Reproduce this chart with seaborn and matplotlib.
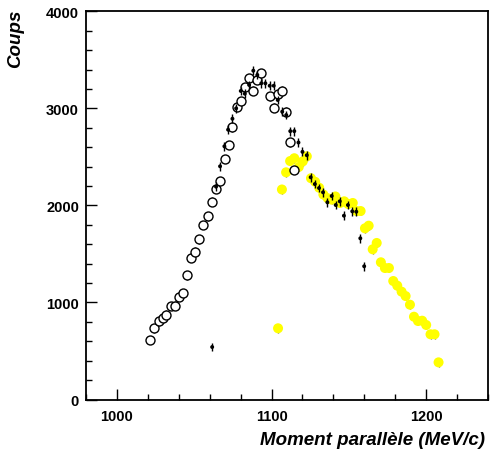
import matplotlib
matplotlib.use("Agg")
import matplotlib.pyplot as plt
import seaborn as sns
import pandas as pd
import numpy as np
from matplotlib.ticker import MultipleLocator

# ---- data ----
open_x = [1021.5, 1024.1, 1026.9, 1029.5, 1032.0, 1034.9, 1037.5, 1040.2, 1042.8, 1045.4,
          1048.0, 1050.8, 1053.4, 1055.9, 1058.8, 1061.2, 1064.1, 1066.7, 1069.6, 1072.2,
          1074.7, 1077.5, 1080.1, 1082.9, 1085.5, 1088.0, 1090.8, 1093.4, 1098.8, 1101.5,
          1104.4, 1106.8, 1109.4, 1112.0, 1114.7]
open_y = [613, 734, 806, 840, 874, 963, 967, 1059, 1097, 1280,
          1458, 1523, 1649, 1798, 1886, 2040, 2169, 2251, 2478, 2622,
          2805, 3017, 3073, 3220, 3313, 3182, 3295, 3361, 3124, 3006,
          3148, 3182, 2965, 2650, 2365]

black_x = [1061.6, 1064.1, 1066.7, 1069.5, 1071.9, 1074.7, 1077.1, 1080.1, 1082.7, 1085.5,
           1088.2, 1090.8, 1093.4, 1096.0, 1098.8, 1101.4, 1104.0, 1106.9, 1109.5, 1112.1,
           1114.7, 1117.4, 1120.0, 1122.8, 1125.3, 1128.0, 1130.7, 1133.3, 1136.1, 1138.9,
           1141.5, 1144.1, 1146.8, 1149.4, 1152.2, 1154.8, 1157.4, 1159.9]
black_y = [541, 2193, 2403, 2609, 2780, 2893, 3000, 3179, 3151, 3241,
           3388, 3344, 3258, 3258, 3233, 3233, 3086, 2966, 2931, 2765,
           2765, 2648, 2552, 2517, 2290, 2220, 2179, 2135, 2032, 2097,
           2004, 2042, 1894, 2004, 1939, 1935, 1661, 1373]

yellow_x = [1104.2, 1106.7, 1109.4, 1112.0, 1114.7, 1117.6, 1120.2, 1122.8, 1125.5, 1128.2,
            1130.8, 1133.5, 1136.3, 1138.9, 1141.3, 1144.3, 1147.0, 1149.6, 1152.5, 1155.0,
            1157.6, 1160.4, 1162.8, 1165.4, 1168.0, 1170.7, 1173.3, 1175.9, 1178.7, 1181.3,
            1184.1, 1186.7, 1189.5, 1192.1, 1194.7, 1197.4, 1200.0, 1202.8, 1205.4, 1208.0]
yellow_y = [734, 2164, 2341, 2457, 2486, 2396, 2454, 2506, 2280, 2243,
            2182, 2112, 2074, 2059, 2092, 2025, 2042, 2014, 2025, 1942,
            1942, 1764, 1791, 1548, 1613, 1414, 1355, 1355, 1221, 1173,
            1111, 1066, 977, 853, 809, 812, 768, 672, 672, 383]

open_err = 45
black_err = 45
yellow_err = 45

x_ticks = [1000, 1100, 1200]
y_ticks = [0, 1000, 2000, 3000, 4000]

# ---- plotting ----
sns.set_theme(style="white")
plt.rcParams['font.family'] = ['Liberation Sans', 'DejaVu Sans']
plt.rcParams['text.color'] = 'black'
plt.rcParams['axes.labelcolor'] = 'black'
plt.rcParams['xtick.color'] = 'black'
plt.rcParams['ytick.color'] = 'black'

fig = plt.figure(figsize=(4.9, 4.6), dpi=100)
ax = fig.add_axes([0.1755, 0.1293, 0.8205, 0.844])

df_y = pd.DataFrame({"x": yellow_x, "y": yellow_y})
df_o = pd.DataFrame({"x": open_x, "y": open_y})
df_b = pd.DataFrame({"x": black_x, "y": black_y})

# yellow series
ax.errorbar(df_y["x"], df_y["y"], yerr=yellow_err, fmt="none", ecolor="#555555",
            elinewidth=1.0, zorder=2)
sns.scatterplot(data=df_y, x="x", y="y", ax=ax, color="#ffff00", s=52,
                edgecolor="none", linewidth=0, zorder=3)

# open circles
ax.errorbar(df_o["x"], df_o["y"], yerr=open_err, fmt="none", ecolor="black",
            elinewidth=1.0, zorder=4)
sns.scatterplot(data=df_o, x="x", y="y", ax=ax, marker="o", s=42,
                facecolor="white", edgecolor="black", linewidth=1.0, zorder=5)

# black points
ax.errorbar(df_b["x"], df_b["y"], yerr=black_err, fmt="none", ecolor="black",
            elinewidth=1.0, zorder=6)
sns.scatterplot(data=df_b, x="x", y="y", ax=ax, color="black", s=8,
                edgecolor="none", linewidth=0, zorder=7)

ax.set_xlim(980, 1240)
ax.set_ylim(0, 4000)
ax.set_xticks(x_ticks)
ax.set_yticks(y_ticks)
ax.xaxis.set_minor_locator(MultipleLocator(20))
ax.yaxis.set_minor_locator(MultipleLocator(200))
ax.tick_params(axis="both", which="major", direction="in", length=8, width=1,
               color="black", labelcolor="black", labelsize=10.5, pad=5,
               bottom=True, left=True, top=False, right=False)
ax.tick_params(axis="both", which="minor", direction="in", length=4, width=1,
               color="black", bottom=True, left=True, top=False, right=False)
for lab in ax.get_xticklabels() + ax.get_yticklabels():
    lab.set_fontweight("bold")
ax.tick_params(axis="x", which="major", pad=7)

for sp in ax.spines.values():
    sp.set_visible(True)
    sp.set_color("black")
    sp.set_linewidth(1.3)

ax.set_xlabel("")
ax.set_ylabel("")
fig.text(0.99, 0.043, "Moment parallèle (MeV/c)", ha="right", va="center",
         fontsize=13.5, fontweight="bold", fontstyle="italic", color="black")
fig.text(0.032, 0.98, "Coups", ha="center", va="top", rotation=90,
         fontsize=13.5, fontweight="bold", fontstyle="italic", color="black")

fig.savefig("out.png", dpi=100, facecolor="white")
